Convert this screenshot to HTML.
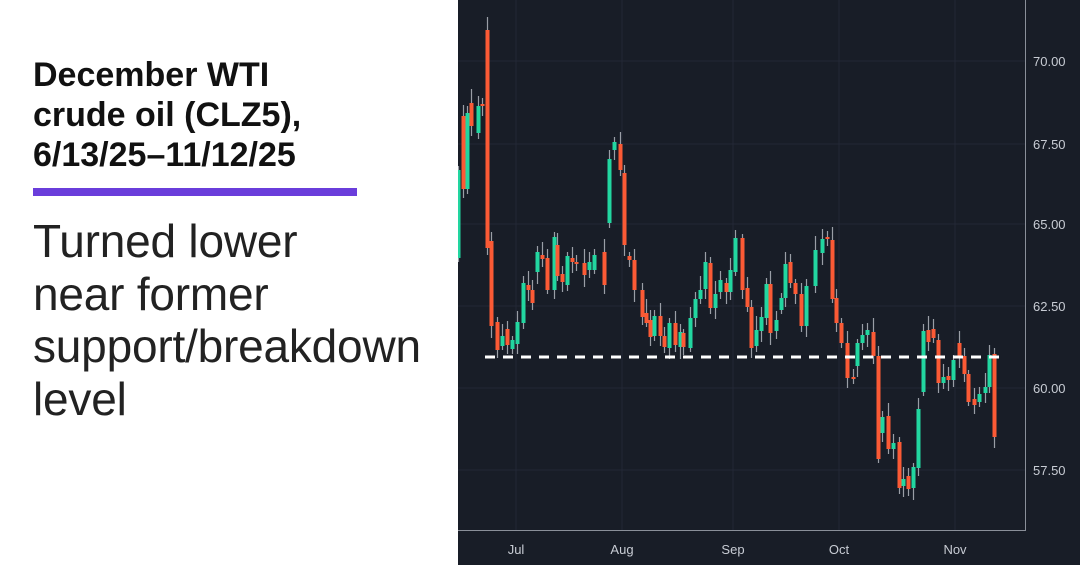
<!DOCTYPE html>
<html><head><meta charset="utf-8"><style>
body{margin:0;width:1080px;height:565px;overflow:hidden;background:#fff;font-family:"Liberation Sans",sans-serif;position:relative}
.t{position:absolute;left:33px;top:55px;font-weight:bold;font-size:34px;line-height:40px;color:#111;letter-spacing:0px;white-space:nowrap}
.bar{position:absolute;left:33px;top:188px;width:324px;height:8px;background:#6a3ddb}
.b{position:absolute;left:33px;top:215px;font-size:46px;line-height:52.5px;color:#222;white-space:nowrap;letter-spacing:-0.2px}
svg{position:absolute;left:458px;top:0}
</style></head><body>
<div class="t">December WTI<br>crude oil (CLZ5),<br>6/13/25–11/12/25</div>
<div class="bar"></div>
<div class="b">Turned lower<br>near former<br>support/breakdown<br>level</div>
<svg width="622" height="565" viewBox="458 0 622 565" id="s">
<rect x="458" y="0" width="622" height="565" fill="#181d27"/>
<g stroke="#222836" stroke-width="1">
<line x1="458" y1="61" x2="1025" y2="61"/><line x1="458" y1="144" x2="1025" y2="144"/><line x1="458" y1="224" x2="1025" y2="224"/><line x1="458" y1="306" x2="1025" y2="306"/><line x1="458" y1="388" x2="1025" y2="388"/><line x1="458" y1="470" x2="1025" y2="470"/>
<line x1="516" y1="0" x2="516" y2="530"/><line x1="622" y1="0" x2="622" y2="530"/><line x1="733" y1="0" x2="733" y2="530"/><line x1="839" y1="0" x2="839" y2="530"/><line x1="955" y1="0" x2="955" y2="530"/>
</g>
<line x1="1025.5" y1="0" x2="1025.5" y2="530" stroke="#8a8f99"/>
<line x1="458" y1="530.5" x2="1026" y2="530.5" stroke="#8a8f99"/>
<g fill="#c8ccd4" font-size="13">
<text x="1033" y="66">70.00</text><text x="1033" y="149">67.50</text><text x="1033" y="229">65.00</text><text x="1033" y="311">62.50</text><text x="1033" y="393">60.00</text><text x="1033" y="475">57.50</text>
<text x="516" y="554" text-anchor="middle">Jul</text><text x="622" y="554" text-anchor="middle">Aug</text><text x="733" y="554" text-anchor="middle">Sep</text><text x="839" y="554" text-anchor="middle">Oct</text><text x="955" y="554" text-anchor="middle">Nov</text>
</g>
<g id="c"></g>
<line x1="485" y1="357" x2="1006" y2="357" stroke="#fff" stroke-width="3" stroke-dasharray="10,8"/>
</svg>
<script>
var d=[[458,258,170],[463,116,189],[467,189,113],[471,103,126],[478,133,106],[482,104,105],[487,30,248],[491,241,326],[497,322,350],[502,346,336],[507,329,345],[512,349,340],[517,344,322],[523,323,283],[528,285,290],[532,290,303],[537,272,252],[542,255,259],[547,258,290],[554,290,237],[557,245,276],[562,274,282],[567,285,256],[572,258,262],[576,262,264],[584,263,275],[589,270,262],[594,270,255],[604,252,285],[609,223,159],[614,150,142],[620,144,170],[624,173,245],[629,256,260],[634,260,290],[642,290,317],[646,313,323],[650,320,337],[654,336,316],[660,316,336],[664,336,347],[669,348,323],[675,323,345],[680,347,332],[683,333,347],[690,348,318],[695,318,299],[700,299,290],[705,289,262],[710,263,308],[715,308,294],[720,292,280],[726,283,292],[730,292,270],[735,272,238],[742,238,290],[747,288,307],[751,307,348],[756,346,330],[761,331,317],[766,318,284],[770,284,333],[776,331,320],[781,310,298],[785,298,264],[790,262,283],[795,283,294],[801,294,326],[806,326,286],[815,286,250],[822,253,239],[827,237,238],[832,240,299],[836,298,323],[841,323,343],[847,343,378],[853,377,378],[857,366,343],[862,343,335],[867,335,330],[873,332,356],[878,356,459],[882,433,417],[888,416,449],[893,449,443],[899,442,488],[903,486,479],[908,476,489],[913,488,467],[918,468,409],[923,392,331],[928,330,342],[933,329,338],[938,340,383],[943,383,377],[948,376,380],[953,380,360],[959,343,356],[964,356,374],[968,374,402],[974,399,405],[979,402,394],[985,393,387],[989,387,355],[994,354,437]];
var s='',i=0;d.forEach(function(a){var x=a[0],o=a[1],c=a[2],t=Math.min(o,c),b=Math.max(o,c);var e1=4+(i*7%11),e2=4+(i*5%9);i++;
s+='<line x1="'+(x+0.5)+'" x2="'+(x+0.5)+'" y1="'+(t-e1)+'" y2="'+(b+e2)+'" stroke="#9a9ea6" stroke-width="1.2"/>';
s+='<rect x="'+(x-1.5)+'" y="'+t+'" width="4" height="'+Math.max(b-t,2)+'" fill="'+(c<o?'#22d6a0':'#fb5a35')+'"/>';});
document.getElementById('c').innerHTML=s;
</script>
</body></html>
